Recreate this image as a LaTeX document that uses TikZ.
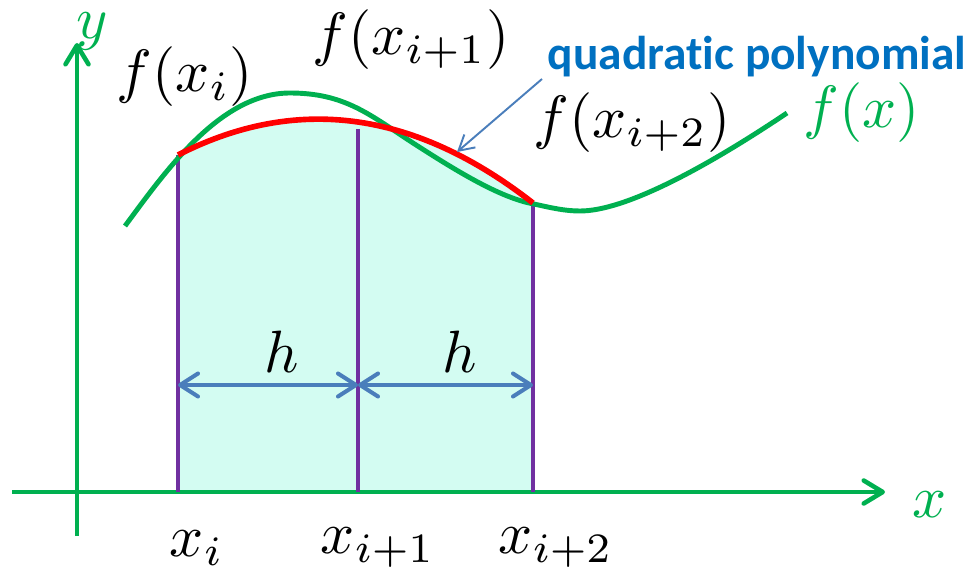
\documentclass[tikz,border=0pt]{standalone}
\usepackage{fontspec}
\newfontfamily\labelfont[Ligatures={NoCommon}]{Carlito}
\usetikzlibrary{arrows.meta}
\definecolor{grn}{HTML}{00B050}
\definecolor{redc}{HTML}{FF0000}
\definecolor{purp}{HTML}{7030A0}
\definecolor{dimblue}{HTML}{4A7EBB}
\definecolor{txtblue}{HTML}{0070C0}
\definecolor{shadec}{HTML}{D3FCF2}
\begin{document}
\begin{tikzpicture}[x=0.02cm,y=-0.02cm,
  axis/.style={grn,line width=2.6pt,-{Straight Barb[length=0.38cm,width=0.46cm,round]}},
  curve/.style={grn,line width=2.8pt},
  quad/.style={redc,line width=3.2pt},
  ord/.style={purp,line width=2.3pt},
  dimarrow/.style={dimblue,line width=2.3pt,{Straight Barb[length=0.36cm,width=0.46cm,round]}-{Straight Barb[length=0.36cm,width=0.46cm,round]}},
  callout/.style={dimblue,line width=1.1pt,-{Straight Barb[length=0.3cm,width=0.34cm]}},
  mlbl/.style={inner sep=0pt,scale=3.4},
  glbl/.style={inner sep=0pt,scale=3.4,text=grn},
  qlbl/.style={inner sep=0pt,text=txtblue,font=\labelfont\bfseries\fontsize{27}{32}\selectfont}]
\useasboundingbox (0,0) rectangle (970,581);
% points
\coordinate (P0) at (178,155);
\coordinate (P1) at (358,122);
\coordinate (P2) at (533,203);
\coordinate (B0) at (178,492);
\coordinate (B1) at (358,492);
\coordinate (B2) at (533,492);
\coordinate (T1) at (358,129);
% shaded area
\fill[shadec] (B0) -- plot[domain=-1.8:1.75,samples=60] ({358+100*\x},{18.2*\x*\x+14.43*\x+122}) -- (B2) -- cycle;
% axes
\coordinate (xs) at (12,492);
\coordinate (xe) at (885,492);
\coordinate (ys) at (77,536);
\coordinate (ye) at (77,43);
\draw[axis] (xs) -- (xe);
\draw[axis] (ys) -- (ye);
% ordinates
\draw[ord] (P0) -- (B0);
\draw[ord] (T1) -- (B1);
\draw[ord] (P2) -- (B2);
% f(x)
\coordinate (F0) at (125,226);
\coordinate (F1) at (290,93);
\coordinate (F2) at (413,143);
\coordinate (F3) at (534,204);
\coordinate (F4) at (580,211);
\coordinate (F5) at (787,113);
\draw[curve] (F0) .. controls (165,172) and (220,93) .. (F1)
  .. controls (345,93) and (370,115) .. (F2)
  .. controls (455,170) and (500,198) .. (F3)
  .. controls (552,208) and (565,211) .. (F4)
  .. controls (625,211) and (705,168) .. (F5);
% quadratic
\draw[quad] plot[domain=-1.8:1.75,samples=60] ({358+100*\x},{18.2*\x*\x+14.43*\x+122});
% h arrows
\coordinate (H0) at (178,385);
\coordinate (H1) at (358,385);
\coordinate (H2) at (533,385);
\draw[dimarrow] (H0) -- (H1);
\draw[dimarrow] (H1) -- (H2);
% labels
\node[glbl] (ylab) at (92,31) {$y$};
\node[glbl] (xlab) at (930,505) {$x$};
\node[mlbl] (fxi) at (185,77) {$f(x_i)$};
\node[mlbl] (fxi1) at (411,40) {$f(x_{i+1})$};
\node[mlbl] (fxi2) at (632,123) {$f(x_{i+2})$};
\node[glbl] (fx) at (862,113) {$f(x)$};
\node[qlbl] (qp) at (757,57) {quadratic polynomial};
\node[mlbl] (h1) at (282,352) {$h$};
\node[mlbl] (h2) at (460,352) {$h$};
\node[mlbl] (xi) at (197,548) {$x_i$};
\node[mlbl] (xi1) at (378,548) {$x_{i+1}$};
\node[mlbl] (xi2) at (556,548) {$x_{i+2}$};
% callout
\coordinate (cs) at (542,79);
\coordinate (ce) at (457,152);
\draw[callout] (cs) -- (ce);
\end{tikzpicture}
\end{document}
